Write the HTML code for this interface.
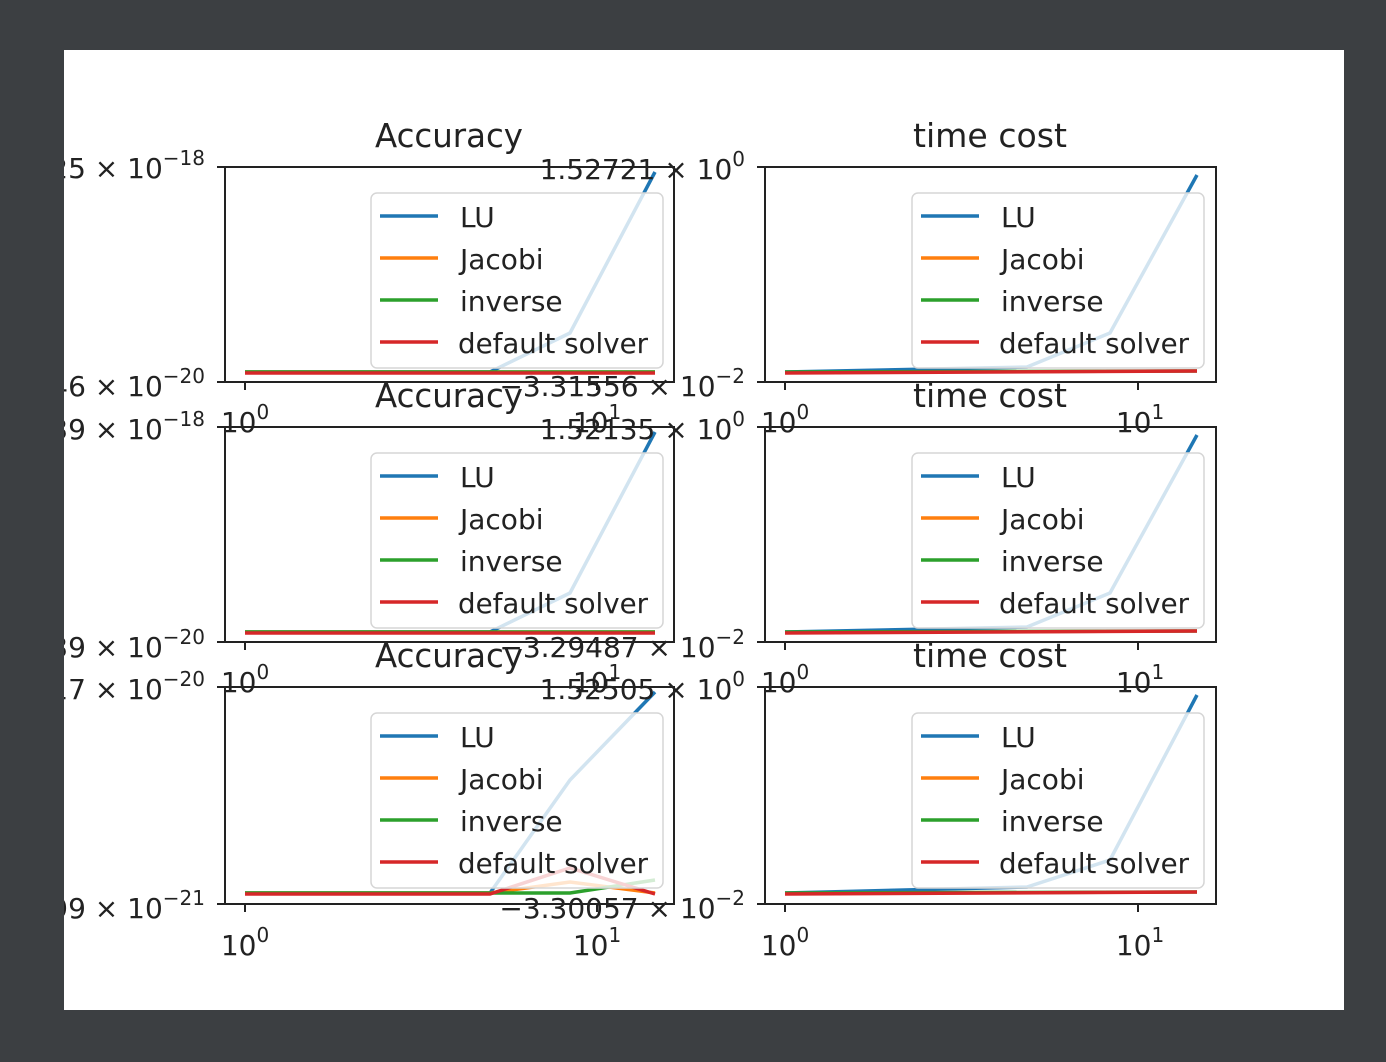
<!DOCTYPE html>
<html><head><meta charset="utf-8"><style>
html,body{margin:0;padding:0;background:#3c3f42;}
svg{display:block;}
text{font-family:"DejaVu Sans","Liberation Sans",sans-serif;fill:#222;}
</style></head><body>
<svg width="1386" height="1062" viewBox="0 0 1386 1062" xmlns="http://www.w3.org/2000/svg">
<defs><clipPath id="c"><rect x="64" y="50" width="1280" height="960"/></clipPath>
<g id="leg">
<rect x="371" y="193" width="292" height="175" rx="6" fill="#fff" fill-opacity="0.8" stroke="#d6d6d6" stroke-width="1.5"/>
<line x1="380" y1="216" x2="438" y2="216" stroke="#1f77b4" stroke-width="3.5"/>
<line x1="380" y1="258" x2="438" y2="258" stroke="#ff7f0e" stroke-width="3.5"/>
<line x1="380" y1="300" x2="438" y2="300" stroke="#2ca02c" stroke-width="3.5"/>
<line x1="380" y1="342" x2="438" y2="342" stroke="#d62728" stroke-width="3.5"/>
<g font-size="28">
<text x="460" y="227">LU</text>
<text x="460" y="269">Jacobi</text>
<text x="460" y="311">inverse</text>
<text x="458" y="353" textLength="190" lengthAdjust="spacingAndGlyphs">default solver</text>
</g>
</g>
</defs>
<rect x="64" y="50" width="1280" height="960" fill="#fff"/>
<g clip-path="url(#c)">

<g id="row1">
<text x="449" y="147" font-size="33" text-anchor="middle" textLength="148" lengthAdjust="spacingAndGlyphs">Accuracy</text>
<polyline points="245,372 490,372 570,333 655,172" fill="none" stroke="#1f77b4" stroke-width="3.5"/>
<line x1="245" y1="372" x2="655" y2="372" stroke="#ff7f0e" stroke-width="3.5"/>
<line x1="245" y1="372" x2="655" y2="372" stroke="#2ca02c" stroke-width="3.5"/>
<line x1="245" y1="373" x2="655" y2="373" stroke="#d62728" stroke-width="3.5"/>
<use href="#leg"/>
<rect x="225" y="167" width="449" height="215" fill="none" stroke="#222" stroke-width="2"/>
<line x1="217" y1="167" x2="225" y2="167" stroke="#222" stroke-width="2"/>
<line x1="217" y1="382" x2="225" y2="382" stroke="#222" stroke-width="2"/>
<line x1="245" y1="382" x2="245" y2="390" stroke="#222" stroke-width="2"/>
<line x1="597" y1="382" x2="597" y2="390" stroke="#222" stroke-width="2"/>
<text x="990" y="147" font-size="33" text-anchor="middle" textLength="154" lengthAdjust="spacingAndGlyphs">time cost</text>
<polyline points="785,372 1027,367 1110,333 1197,175" fill="none" stroke="#1f77b4" stroke-width="3.5"/>
<line x1="785" y1="372" x2="1197" y2="371" stroke="#2ca02c" stroke-width="3.5"/>
<line x1="785" y1="373" x2="1197" y2="371" stroke="#d62728" stroke-width="3.5"/>
<use href="#leg" transform="translate(541,0)"/>
<rect x="765" y="167" width="451" height="215" fill="none" stroke="#222" stroke-width="2"/>
<line x1="757" y1="167" x2="765" y2="167" stroke="#222" stroke-width="2"/>
<line x1="757" y1="382" x2="765" y2="382" stroke="#222" stroke-width="2"/>
<line x1="785" y1="382" x2="785" y2="390" stroke="#222" stroke-width="2"/>
<line x1="1138" y1="382" x2="1138" y2="390" stroke="#222" stroke-width="2"/>
</g>
<use href="#row1" transform="translate(0,260)"/>

<g transform="translate(0,520)">
<text x="449" y="147" font-size="33" text-anchor="middle" textLength="148" lengthAdjust="spacingAndGlyphs">Accuracy</text>
<polyline points="245,373 490,373 570,260 655,172" fill="none" stroke="#1f77b4" stroke-width="3.5"/>
<polyline points="245,373 490,373 570,362 655,373" fill="none" stroke="#ff7f0e" stroke-width="3.5"/>
<polyline points="245,373 490,373 570,373 655,360" fill="none" stroke="#2ca02c" stroke-width="3.5"/>
<polyline points="245,374 490,374 570,348 655,374" fill="none" stroke="#d62728" stroke-width="3.5"/>
<use href="#leg"/>
<rect x="225" y="167" width="449" height="217" fill="none" stroke="#222" stroke-width="2"/>
<line x1="217" y1="167" x2="225" y2="167" stroke="#222" stroke-width="2"/>
<line x1="217" y1="384" x2="225" y2="384" stroke="#222" stroke-width="2"/>
<line x1="245" y1="384" x2="245" y2="392" stroke="#222" stroke-width="2"/>
<line x1="597" y1="384" x2="597" y2="392" stroke="#222" stroke-width="2"/>
<text x="990" y="147" font-size="33" text-anchor="middle" textLength="154" lengthAdjust="spacingAndGlyphs">time cost</text>
<polyline points="785,373 1027,367 1110,340 1197,175" fill="none" stroke="#1f77b4" stroke-width="3.5"/>
<line x1="785" y1="373" x2="1197" y2="372" stroke="#2ca02c" stroke-width="3.5"/>
<line x1="785" y1="374" x2="1197" y2="372" stroke="#d62728" stroke-width="3.5"/>
<use href="#leg" transform="translate(541,0)"/>
<rect x="765" y="167" width="451" height="217" fill="none" stroke="#222" stroke-width="2"/>
<line x1="757" y1="167" x2="765" y2="167" stroke="#222" stroke-width="2"/>
<line x1="757" y1="384" x2="765" y2="384" stroke="#222" stroke-width="2"/>
<line x1="785" y1="384" x2="785" y2="392" stroke="#222" stroke-width="2"/>
<line x1="1138" y1="384" x2="1138" y2="392" stroke="#222" stroke-width="2"/>
</g>

<g font-size="28" text-anchor="end">
<text x="205" y="178">25 × 10<tspan font-size="20" dy="-13">−18</tspan></text>
<text x="205" y="396">46 × 10<tspan font-size="20" dy="-13">−20</tspan></text>
<text x="205" y="439">39 × 10<tspan font-size="20" dy="-13">−18</tspan></text>
<text x="205" y="657">39 × 10<tspan font-size="20" dy="-13">−20</tspan></text>
<text x="205" y="699">17 × 10<tspan font-size="20" dy="-13">−20</tspan></text>
<text x="205" y="918">99 × 10<tspan font-size="20" dy="-13">−21</tspan></text>
<text x="745" y="179">1.52721 × 10<tspan font-size="20" dy="-13">0</tspan></text>
<text x="745" y="396">−3.31556 × 10<tspan font-size="20" dy="-13">−2</tspan></text>
<text x="745" y="439">1.52135 × 10<tspan font-size="20" dy="-13">0</tspan></text>
<text x="745" y="657">−3.29487 × 10<tspan font-size="20" dy="-13">−2</tspan></text>
<text x="745" y="699">1.52505 × 10<tspan font-size="20" dy="-13">0</tspan></text>
<text x="745" y="918">−3.30057 × 10<tspan font-size="20" dy="-13">−2</tspan></text>
</g>
<g font-size="28" text-anchor="middle">
<text x="245" y="432">10<tspan font-size="20" dy="-13">0</tspan></text>
<text x="597" y="432">10<tspan font-size="20" dy="-13">1</tspan></text>
<text x="785" y="432">10<tspan font-size="20" dy="-13">0</tspan></text>
<text x="1140" y="432">10<tspan font-size="20" dy="-13">1</tspan></text>
<text x="245" y="692">10<tspan font-size="20" dy="-13">0</tspan></text>
<text x="597" y="692">10<tspan font-size="20" dy="-13">1</tspan></text>
<text x="785" y="692">10<tspan font-size="20" dy="-13">0</tspan></text>
<text x="1140" y="692">10<tspan font-size="20" dy="-13">1</tspan></text>
<text x="245" y="955">10<tspan font-size="20" dy="-13">0</tspan></text>
<text x="597" y="955">10<tspan font-size="20" dy="-13">1</tspan></text>
<text x="785" y="955">10<tspan font-size="20" dy="-13">0</tspan></text>
<text x="1140" y="955">10<tspan font-size="20" dy="-13">1</tspan></text>
</g>
</g>
</svg>
</body></html>
